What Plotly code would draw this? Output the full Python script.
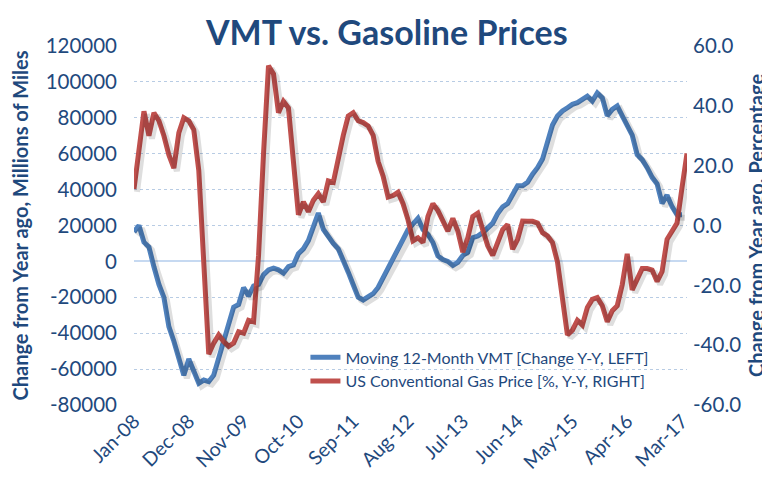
import pandas as pd
import plotly.graph_objects as go

# Monthly categories Jan-08 .. Apr-17
months = [d.strftime("%b-%y") for d in pd.date_range("2008-01-01", "2017-04-01", freq="MS")]
tick_labels = ["Jan-08", "Dec-08", "Nov-09", "Oct-10", "Sep-11", "Aug-12",
               "Jul-13", "Jun-14", "May-15", "Apr-16", "Mar-17"]

# Moving 12-Month VMT, change Y-Y (millions of miles) - left axis
vmt_change = [
    16400, 20000, 10700, 8000, -3000, -12800, -20000, -36300, -44500, -53500,
    -63400, -54400, -61600, -67900, -66100, -67000, -63400, -53500, -44500, -34500,
    -25500, -24000, -14600, -19200, -13700, -12800, -7400, -4700, -3800, -4700,
    -6500, -2900, -2000, 4300, 7000, 11600, 19700, 26900, 17900, 13400,
    10000, 7000, 1000, -6000, -13000, -20000, -21500, -20000, -18000, -14500,
    -9400, -3000, 1400, 6000, 12300, 17700, 21300, 24000, 17700, 15000,
    10500, 3000, 1000, 0, -2200, -500, 3300, 5100, 13200, 14100,
    16000, 18600, 21300, 26700, 30400, 32200, 36700, 42100, 42100, 44100,
    48600, 52200, 57000, 66000, 76000, 81000, 83800, 85600, 87500, 88400,
    90200, 92000, 89300, 93800, 91100, 81100, 84700, 86600, 81100, 75700,
    70300, 59500, 56700, 52200, 46800, 43200, 32300, 36900, 30500, 26000,
    26000, None,
]

# US Conventional gas price, % change Y-Y - right axis
gas_change = [
    12.2, 25.7, 38.2, 30.0, 37.7, 35.0, 30.0, 23.6, 19.2, 31.0,
    36.0, 35.0, 32.0, 18.4, -13.3, -43.0, -39.3, -36.6, -38.8, -40.4,
    -39.3, -35.5, -36.0, -31.7, -32.2, -10.0, 24.1, 53.4, 50.7, 37.7,
    41.5, 39.3, 21.4, 3.6, 7.9, 4.6, 8.4, 10.6, 7.9, 14.9,
    14.4, 23.0, 30.1, 36.6, 37.7, 35.0, 34.4, 33.3, 30.1, 21.4,
    16.5, 9.5, 10.0, 11.1, 7.3, 1.9, -5.1, -4.1, -5.7, 3.0,
    7.3, 5.0, 1.4, -1.9, 2.4, -1.9, -8.9, -4.1, 3.0, 4.1,
    -1.4, -6.8, -10.0, -6.2, -1.4, 0.3, -7.9, -4.6, 1.5, 1.4,
    1.4, 0.8, -2.4, -3.5, -5.7, -12.2, -24.1, -36.6, -35.0, -31.7,
    -33.3, -27.4, -24.7, -24.1, -26.8, -32.2, -28.5, -26.8, -19.8, -9.5,
    -21.5, -18.2, -14.4, -14.4, -14.9, -18.7, -15.4, -4.6, -1.9, 0.8,
    12.7, 24.1,
]

left_ticks = [-80000, -60000, -40000, -20000, 0, 20000, 40000, 60000, 80000, 100000, 120000]
left_tick_text = [str(v) for v in left_ticks]
right_ticks = [-60, -40, -20, 0, 20, 40, 60]
right_tick_text = ["%.1f" % v for v in right_ticks]

NAVY = "#1F497D"
BLUE = "#4F81BD"
RED = "#C0504D"
SHADOW = "rgba(0,0,0,0.13)"
FONT = "Lato"

LEFT_RANGE = [-80000, 120000]
RIGHT_RANGE = [-60, 60]
X_RANGE = [0, len(months) - 1]

# Drop-shadow axes: same scales, nudged a few pixels down-right (plot ~554x369 px)
PLOT_W, PLOT_H, SH_PX = 554.0, 369.0, 3.0
dx = (X_RANGE[1] - X_RANGE[0]) * SH_PX / PLOT_W
dyl = (LEFT_RANGE[1] - LEFT_RANGE[0]) * SH_PX / PLOT_H
dyr = (RIGHT_RANGE[1] - RIGHT_RANGE[0]) * SH_PX / PLOT_H

fig = go.Figure()
# shadows
fig.add_trace(go.Scatter(x=months, y=vmt_change, mode="lines", showlegend=False, hoverinfo="skip",
                         line=dict(color=SHADOW, width=6), xaxis="x2", yaxis="y3"))
fig.add_trace(go.Scatter(x=months, y=gas_change, mode="lines", showlegend=False, hoverinfo="skip",
                         line=dict(color=SHADOW, width=6), xaxis="x2", yaxis="y4"))
# main series
fig.add_trace(go.Scatter(
    x=months, y=vmt_change, mode="lines", name="Moving 12-Month VMT [Change Y-Y, LEFT]",
    line=dict(color=BLUE, width=5), xaxis="x", yaxis="y", connectgaps=False,
))
fig.add_trace(go.Scatter(
    x=months, y=gas_change, mode="lines", name="US Conventional Gas Price [%, Y-Y, RIGHT]",
    line=dict(color=RED, width=5), xaxis="x", yaxis="y2",
))

fig.update_layout(
    width=770, height=477,
    margin=dict(l=125, r=91, t=38, b=70),
    paper_bgcolor="white", plot_bgcolor="white",
    font=dict(family=FONT, color=NAVY),
    title=dict(text="<b>VMT vs. Gasoline Prices</b>", x=0.492, xanchor="center",
               y=0.948, yanchor="middle",
               font=dict(size=34, color=NAVY, family=FONT)),
    xaxis=dict(
        type="category", range=X_RANGE,
        tickmode="array", tickvals=tick_labels, ticktext=tick_labels,
        tickangle=-45, tickfont=dict(size=19.5, color=NAVY),
        showgrid=False, showline=False, zeroline=False, ticks="",
    ),
    xaxis2=dict(type="category", overlaying="x", visible=False,
                range=[X_RANGE[0] - dx, X_RANGE[1] - dx]),
    yaxis=dict(
        range=LEFT_RANGE, tickmode="array", tickvals=left_ticks, ticktext=left_tick_text,
        tickfont=dict(size=20.5, color=NAVY), ticklabelstandoff=16,
        showgrid=True, gridcolor="#B8CCE4", griddash="dot", gridwidth=1,
        zeroline=True, zerolinecolor="#C6D9F1", zerolinewidth=1.5,
        showline=False, ticks="",
        title=dict(text="<b>Change from Year ago, Millions of Miles</b>",
                   font=dict(size=20, color=NAVY), standoff=12),
    ),
    yaxis2=dict(
        range=RIGHT_RANGE, tickmode="array", tickvals=right_ticks, ticktext=right_tick_text,
        overlaying="y", side="right",
        tickfont=dict(size=20.5, color=NAVY), ticklabelstandoff=5,
        showgrid=False, zeroline=False, showline=False, ticks="",
        title=dict(text="<b>Change from Year ago, Percentage</b>",
                   font=dict(size=20, color=NAVY), standoff=9),
    ),
    yaxis3=dict(overlaying="y", visible=False,
                range=[LEFT_RANGE[0] + dyl, LEFT_RANGE[1] + dyl]),
    yaxis4=dict(overlaying="y", visible=False,
                range=[RIGHT_RANGE[0] + dyr, RIGHT_RANGE[1] + dyr]),
    legend=dict(
        x=0.31, y=0.18, xanchor="left", yanchor="top",
        bgcolor="rgba(0,0,0,0)", font=dict(size=16, color=NAVY),
        tracegroupgap=0,
    ),
    showlegend=True,
)

fig.write_html("out.html")
